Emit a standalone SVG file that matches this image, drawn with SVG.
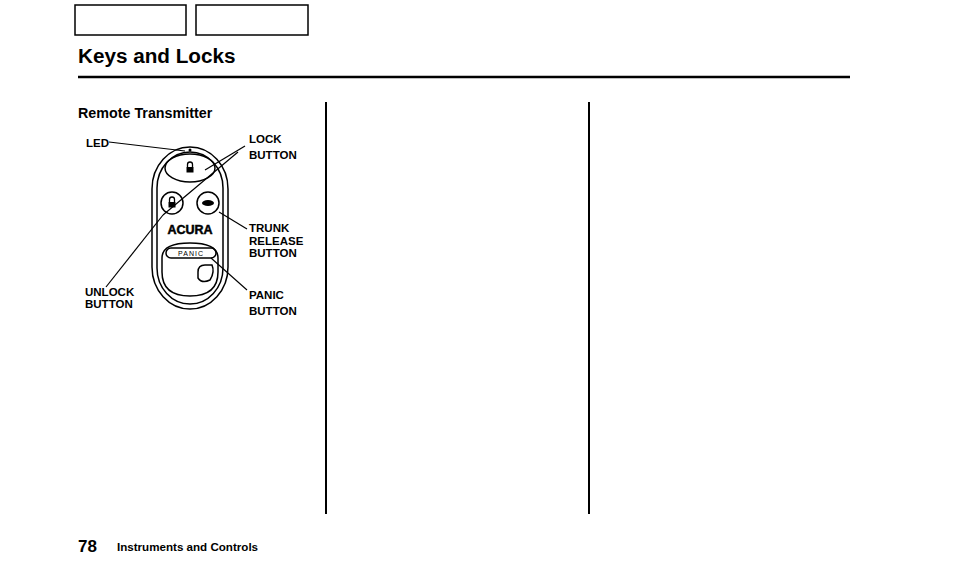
<svg xmlns="http://www.w3.org/2000/svg" width="954" height="572" viewBox="0 0 954 572">
<style>
.t{font-family:"Liberation Sans",Arial,sans-serif;font-weight:bold;fill:#000}
.k{fill:none;stroke:#000;stroke-width:1.5}
.l{stroke:#000;stroke-width:1.2;fill:none}
</style>
<defs>
<g id="pad"><path d="M-2.5 -1 V-3.5 A2.5 2.5 0 0 1 2.5 -3.5 V-1" fill="none" stroke="#000" stroke-width="1.3"/><rect x="-3.5" y="-1" width="7" height="5.5" fill="#000"/></g>
</defs>
<rect width="954" height="572" fill="#fff"/>
<g id="tabs">
<rect x="75" y="5" width="111" height="30" fill="#fff" stroke="#000" stroke-width="1.5"/>
<rect x="196" y="5" width="112" height="30" fill="#fff" stroke="#000" stroke-width="1.5"/>
</g>
<text class="t" x="78" y="63" font-size="20.7">Keys and Locks</text>
<line x1="78" y1="77" x2="850" y2="77" stroke="#000" stroke-width="2.5"/>
<line x1="326" y1="102" x2="326" y2="514" stroke="#000" stroke-width="2"/>
<line x1="589" y1="102" x2="589" y2="514" stroke="#000" stroke-width="2"/>
<text class="t" x="78" y="118" font-size="14.3">Remote Transmitter</text>
<g id="fob">
<rect x="152" y="147" width="76" height="162" rx="38" ry="42" class="k" stroke-width="2"/>
<rect x="157" y="152" width="66" height="152" rx="33" ry="36" class="k"/>
<ellipse cx="190" cy="168" rx="25" ry="14" class="k" fill="#fff"/>
<use href="#pad" x="190" y="168"/>
<circle cx="172" cy="203" r="11" class="k"/>
<circle cx="208" cy="203" r="11" class="k"/>
<use href="#pad" x="172" y="203"/>
<ellipse cx="208" cy="203" rx="6" ry="3" fill="#000"/>
<text class="t" x="190" y="234" font-size="12.5" text-anchor="middle" stroke="#000" stroke-width="0.5">ACURA</text>
<path d="M162 258 Q162 243 190 243 Q218 243 218 258 L218 272 Q218 296 190 296 Q162 296 162 272 Z" class="k"/>
<rect x="166" y="248" width="50" height="10" rx="5" class="k"/>
<text x="191" y="256" font-family="Liberation Sans,sans-serif" font-size="7" text-anchor="middle" letter-spacing="1">PANIC</text>
<path d="M198 272 Q198 265 205 265 L212 265 Q215 272 210 280 Q202 284 198 278 Z" class="k"/>
<circle cx="190" cy="150" r="1.5" fill="#000"/>
</g>
<g id="connectors">
<line class="l" x1="109" y1="142" x2="185" y2="151"/>
<line class="l" x1="245" y1="146" x2="205" y2="170"/>
<line class="l" x1="238" y1="152" x2="163" y2="215"/>
<line class="l" x1="163" y1="215" x2="106" y2="287"/>
<line class="l" x1="247" y1="229" x2="219" y2="212"/>
<line class="l" x1="247" y1="290" x2="211" y2="258"/>
</g>
<g id="labels">
<text x="86" y="147" class="t" font-size="11.5">LED</text>
<text x="249" y="143" class="t" font-size="11.5">LOCK</text>
<text x="249" y="159" class="t" font-size="11.5">BUTTON</text>
<text x="249" y="232" class="t" font-size="11.5">TRUNK</text>
<text x="249" y="245" class="t" font-size="11.5">RELEASE</text>
<text x="249" y="257" class="t" font-size="11.5">BUTTON</text>
<text x="85" y="296" class="t" font-size="11.5">UNLOCK</text>
<text x="85" y="308" class="t" font-size="11.5">BUTTON</text>
<text x="249" y="299" class="t" font-size="11.5">PANIC</text>
<text x="249" y="315" class="t" font-size="11.5">BUTTON</text>
</g>
<text class="t" x="78" y="552" font-size="17">78</text>
<text class="t" x="117" y="551" font-size="11.6">Instruments and Controls</text>
</svg>
